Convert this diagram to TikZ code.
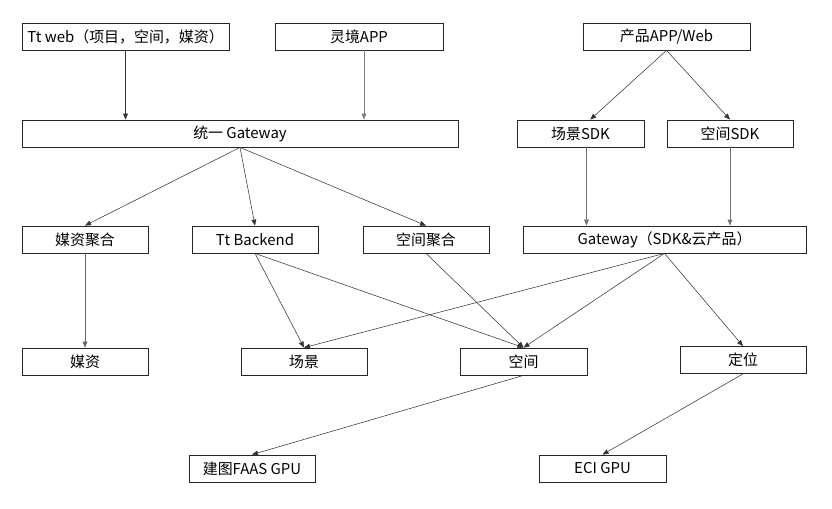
\documentclass[tikz,border=0pt]{standalone}
\usepackage{fontspec}
\setmainfont{Noto Sans CJK SC}
\usetikzlibrary{arrows.meta}
\begin{document}
\begin{tikzpicture}[x=0.75pt, y=-0.75pt,
  box/.style={draw=black!85, line width=0.6pt, minimum height=27*0.75pt, inner sep=0pt,
    font=\fontsize{11.2pt}{13pt}\selectfont},
  link/.style={-{Triangle[length=4.5pt,width=3.6pt]}, draw=black!80, line width=0.4pt}]
  \useasboundingbox (0,0) rectangle (832,508);
  \node[box, minimum width=207*0.75pt] (web) at (125.5, 36.5) {Tt web（项目，空间，媒资）};
  \node[box, minimum width=168*0.75pt] (lj) at (359, 36.5) {灵境APP};
  \node[box, minimum width=167*0.75pt] (prod) at (666.5, 36.5) {产品APP/Web};
  \node[box, minimum width=436*0.75pt] (gw) at (240, 133.5) {统一 Gateway};
  \node[box, minimum width=127*0.75pt] (sdkscene) at (580.5, 133.5) {场景SDK};
  \node[box, minimum width=126*0.75pt] (sdkspace) at (730, 133.5) {空间SDK};
  \node[box, minimum width=126*0.75pt] (mzagg) at (85, 239.5) {媒资聚合};
  \node[box, minimum width=126*0.75pt] (ttb) at (255, 239.5) {Tt Backend};
  \node[box, minimum width=126*0.75pt] (kjagg) at (426, 239.5) {空间聚合};
  \node[box, minimum width=283*0.75pt] (gwsdk) at (664.5, 239.5) {Gateway（SDK\&云产品）};
  \node[box, minimum width=126*0.75pt] (mz) at (85, 361.5) {媒资};
  \node[box, minimum width=126*0.75pt] (cj) at (304, 361.5) {场景};
  \node[box, minimum width=127*0.75pt] (kj) at (523.5, 361.5) {空间};
  \node[box, minimum width=126*0.75pt] (dw) at (743, 360) {定位};
  \node[box, minimum width=126*0.75pt] (faas) at (252, 468.5) {建图FAAS GPU};
  \node[box, minimum width=127*0.75pt] (eci) at (602.5, 468.5) {ECI GPU};
  \draw[link] (web) -- (web |- gw.north);
  \draw[link, draw=black!50] ([xshift=5*0.75pt]lj.south) -- ([xshift=5*0.75pt]lj.south |- gw.north);
  \draw[link] (prod.south) -- (sdkscene.55);
  \draw[link] (prod.south) -- (sdkspace.north);
  \draw[link] (gw.south) -- (mzagg.north);
  \draw[link] (gw.south) -- (ttb.north);
  \draw[link] (gw.south) -- (kjagg.north);
  \draw[link, draw=black!55] ([xshift=6*0.75pt]sdkscene.south) -- ([xshift=6*0.75pt]sdkscene.south |- gwsdk.north);
  \draw[link, draw=black!55] (sdkspace.south) -- (sdkspace.south |- gwsdk.north);
  \draw[link, draw=black!60] (mzagg.south) -- (mz.north);
  \draw[link] (ttb.south) -- (cj.north);
  \draw[link] (ttb.south) -- (kj.north);
  \draw[link] (kjagg.south) -- (kj.north);
  \draw[link] (gwsdk.south) -- (cj.north);
  \draw[link] (gwsdk.south) -- (kj.north);
  \draw[link] (gwsdk.south) -- (dw.north);
  \draw[link] (kj.south) -- (faas.north);
  \draw[link] (dw.south) -- (eci.north);
\end{tikzpicture}
\end{document}
